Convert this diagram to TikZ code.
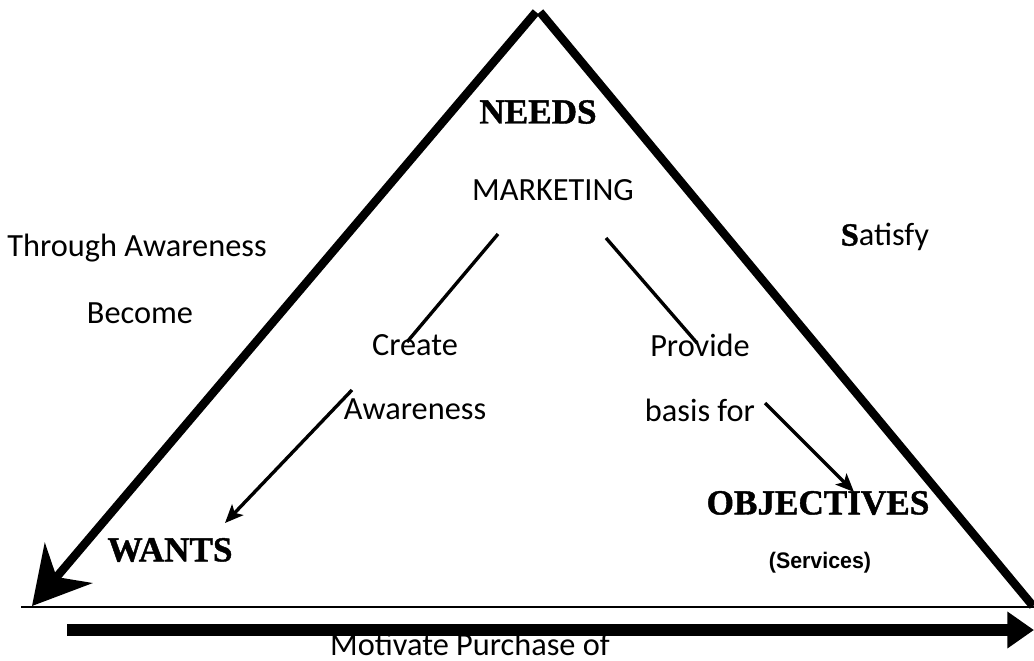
\documentclass[tikz,border=0pt]{standalone}
\usepackage{fontspec}
\setmainfont{Carlito}
\newfontfamily\capsfont[FakeBold=1.2]{Liberation Serif}
\newfontfamily\narrowfont[FakeStretch=0.95]{Liberation Sans}
\usetikzlibrary{arrows.meta}
\tikzset{
  every node/.style={
    text=black,
    font=\fontsize{23}{26}\selectfont
  },
  caps/.style={font=\capsfont\bfseries\fontsize{25}{28}\selectfont},
  side/.style={line width=6pt},
  thin line/.style={line width=2.4pt},
  thin arrow/.style={line width=2.4pt, -{Stealth[length=13pt,width=11pt,inset=3pt]}}
}

\begin{document}
\begin{tikzpicture}[x=0.025cm, y=-0.025cm]
    \useasboundingbox (0,0) rectangle (1034,660);
    %\draw[gray, very thin] (0,0) grid[step=100] (1034,660);
    \coordinate (T1) at (536,12);
    \coordinate (T2) at (540,12);
    \coordinate (L) at (32,606);
    \coordinate (R) at (1033,606);
    \draw[side, -{Stealth[length=40pt,width=44pt,inset=13pt]}] (T1) -- (L);
    \draw[side] (T2) -- (R);
    \draw[line width=1.2pt] (21,607) -- (1034,607);
    \draw[line width=8.5pt, -{Triangle[length=19pt,width=25pt]}] (67,630) -- (1034,630);

    \node (needs) at (538,112) [caps] {NEEDS};
    \node (marketing) at (553,190) {MARKETING};
    \node (through) at (137,248) {Through Awareness};
    \node (become) at (140,313) {Become};
    \node (satisfy) at (885,237) {{\capsfont\bfseries S}atisfy};
    \node (create) at (415,345) {Create};
    \node (awareness) at (415,409) {Awareness};
    \node (provide) at (700,345) {Provide};
    \node (basis) at (700,410) {basis for};
    \node (objectives) at (818,503) [caps] {OBJECTIVES};
    \node (services) at (820,563) [font=\narrowfont\bfseries\fontsize{16}{18}\selectfont] {(Services)};
    \node (wants) at (170,550) [caps] {WANTS};
    \node (motivate) at (470,644) {Motivate Purchase of};

    \coordinate (a1) at (498,234);
    \coordinate (a2) at (407,342);
    \coordinate (b1) at (606,238);
    \coordinate (b2) at (697,343);
    \coordinate (c1) at (352,390);
    \coordinate (c2) at (225,523);
    \coordinate (d1) at (765,403);
    \coordinate (d2) at (854,492);
    \draw[thin line] (a1) -- (a2);
    \draw[thin line] (b1) -- (b2);
    \draw[thin arrow] (c1) -- (c2);
    \draw[thin arrow] (d1) -- (d2);

\end{tikzpicture}
\end{document}
